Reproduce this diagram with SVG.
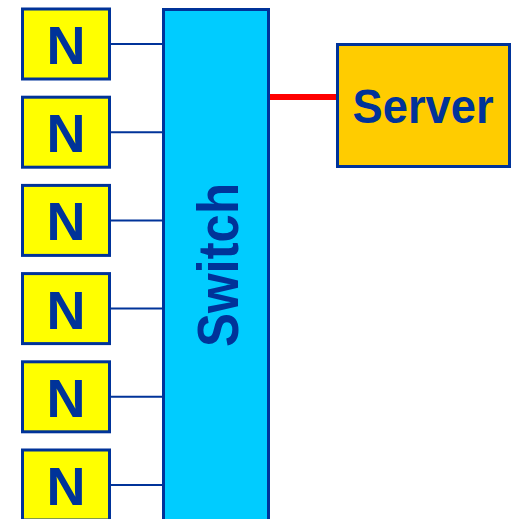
<svg xmlns="http://www.w3.org/2000/svg" width="515" height="519" viewBox="0 0 515 519">
<style>
.box{stroke:#003399;stroke-width:3}
.n{fill:#FFFF00}
.lbl{font-family:"Liberation Sans",Arial,sans-serif;font-weight:bold;fill:#003399}
.ln{stroke:#003399;stroke-width:2;fill:none}
</style>
<rect width="515" height="519" fill="#FFFFFF"/>
<g id="connectors">
<line class="ln" x1="110" y1="44" x2="163" y2="44"/>
<line class="ln" x1="110" y1="132.2" x2="163" y2="132.2"/>
<line class="ln" x1="110" y1="220.4" x2="163" y2="220.4"/>
<line class="ln" x1="110" y1="308.6" x2="163" y2="308.6"/>
<line class="ln" x1="110" y1="396.8" x2="163" y2="396.8"/>
<line class="ln" x1="110" y1="485" x2="163" y2="485"/>
<line x1="269" y1="97" x2="337" y2="97" stroke="#FF0000" stroke-width="6"/>
</g>
<g id="switch">
<rect class="box" x="163.5" y="9.5" width="105" height="520" fill="#00CCFF"/>
<text class="lbl" transform="translate(238,265) rotate(-90)" text-anchor="middle" font-size="58" textLength="164" lengthAdjust="spacingAndGlyphs">Switch</text>
</g>
<g id="server">
<rect class="box" x="337.5" y="44.5" width="172" height="122" fill="#FFCC00"/>
<text class="lbl" x="423" y="123" text-anchor="middle" font-size="49" textLength="141" lengthAdjust="spacingAndGlyphs">Server</text>
</g>
<g id="n1"><rect class="box n" x="22.5" y="9" width="87" height="70"/><text class="lbl" x="66" y="64" text-anchor="middle" font-size="54">N</text></g>
<g id="n2"><rect class="box n" x="22.5" y="97.2" width="87" height="70"/><text class="lbl" x="66" y="152.2" text-anchor="middle" font-size="54">N</text></g>
<g id="n3"><rect class="box n" x="22.5" y="185.4" width="87" height="70"/><text class="lbl" x="66" y="240.4" text-anchor="middle" font-size="54">N</text></g>
<g id="n4"><rect class="box n" x="22.5" y="273.6" width="87" height="70"/><text class="lbl" x="66" y="328.6" text-anchor="middle" font-size="54">N</text></g>
<g id="n5"><rect class="box n" x="22.5" y="361.8" width="87" height="70"/><text class="lbl" x="66" y="416.8" text-anchor="middle" font-size="54">N</text></g>
<g id="n6"><rect class="box n" x="22.5" y="450" width="87" height="70"/><text class="lbl" x="66" y="505" text-anchor="middle" font-size="54">N</text></g>
</svg>
